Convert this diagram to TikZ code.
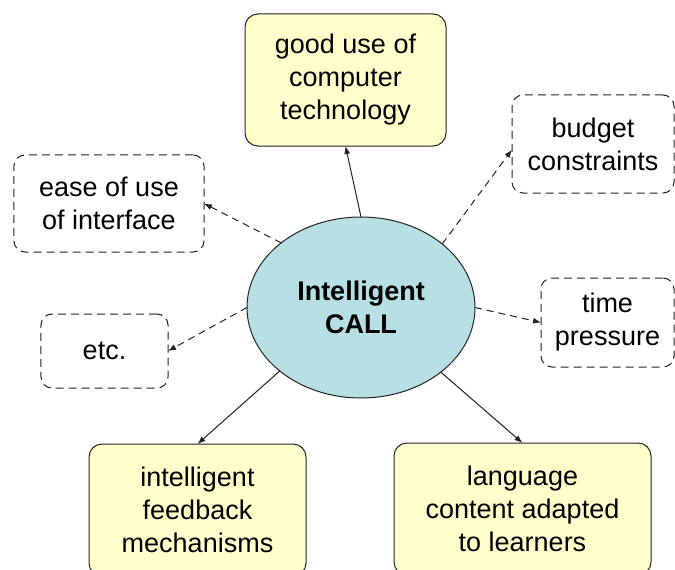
\documentclass[tikz,border=0pt]{standalone}
\usepackage{fontspec}
\setmainfont{Liberation Sans}
\usetikzlibrary{arrows.meta,shapes.geometric,calc}
\definecolor{boxyellow}{RGB}{255,255,204}
\definecolor{ellblue}{RGB}{184,224,228}
\definecolor{edgecol}{RGB}{35,35,35}
\tikzset{
  txt/.style={font=\fontsize{27bp}{33bp}\selectfont, align=center, inner sep=0pt, outer sep=0pt, text=black},
  solidbox/.style={txt, rectangle, draw=edgecol, line width=1bp, fill=boxyellow, rounded corners=13bp},
  dashbox/.style={txt, rectangle, draw=edgecol, line width=1bp, dash pattern=on 8bp off 5bp, rounded corners=11bp},
  hub/.style={txt, ellipse, draw=edgecol, line width=1bp, fill=ellblue, font=\fontsize{27bp}{33bp}\selectfont\bfseries},
  conn/.style={draw=edgecol, line width=1bp, -{Latex[length=8bp,width=6bp]}},
  dconn/.style={conn, dash pattern=on 7bp off 5bp},
}
\begin{document}
\begin{tikzpicture}[x=1bp,y=-1bp]
\useasboundingbox (0,0) rectangle (675,570);
\fill[white] (0,0) rectangle (675,570);

\node[hub, minimum width=228bp, minimum height=181bp] (ell) at (361,307.5) {Intelligent\\CALL};

\node[solidbox, minimum width=201bp, minimum height=132bp] (top) at (345.5,80) {good use of\\computer\\technology};
\node[dashbox, minimum width=190bp, minimum height=97bp] (ease) at (109,203.5) {ease of use\\of interface};
\node[dashbox, minimum width=127bp, minimum height=74bp] (etc) at (104.5,351) {etc.};
\node[dashbox, minimum width=162bp, minimum height=98bp] (budget) at (593,144) {budget\\constraints};
\node[dashbox, minimum width=133bp, minimum height=89bp] (time) at (607.5,322.5) {time\\pressure};
\node[solidbox, minimum width=217bp, minimum height=132bp] (feedback) at (197.5,510) {intelligent\\feedback\\mechanisms};
\node[solidbox, minimum width=257bp, minimum height=132bp] (language) at (522.5,509) {language\\content adapted\\to learners};

\draw[conn] (ell.north) -- (top.south);
\draw[dconn] (ell.38.5) -- (budget.184);
\draw[dconn] (ell.141.5) -- (ease.east);
\draw[dconn] (ell.west) -- (etc.east);
\draw[dconn] (ell.east) -- (time.west);
\draw[conn] (ell.218.5) -- (feedback.north);
\draw[conn] (ell.321.5) -- (language.north);
\end{tikzpicture}
\end{document}
